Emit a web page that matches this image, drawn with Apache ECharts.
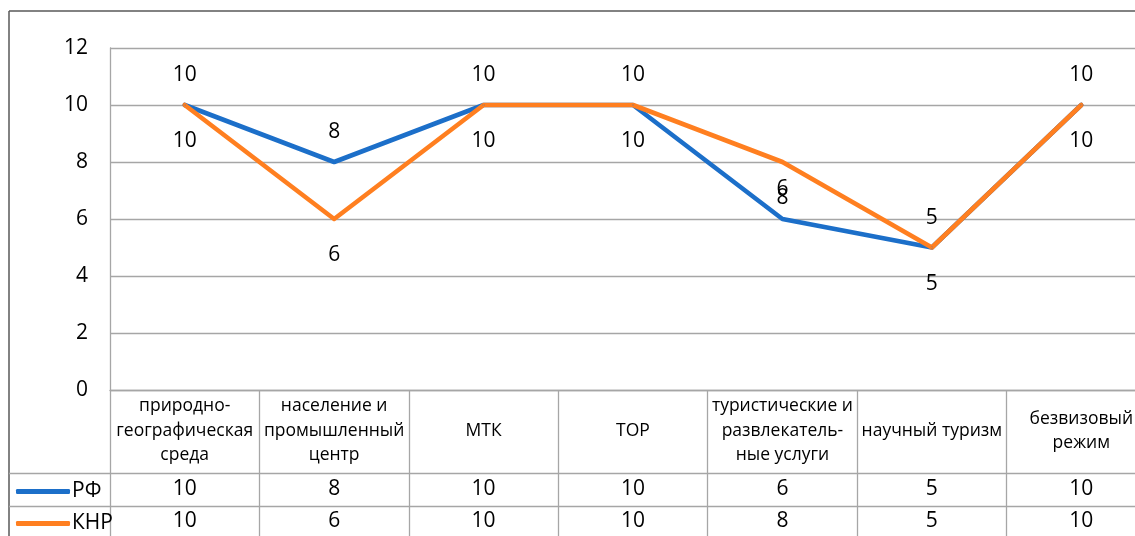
<!DOCTYPE html>
<html><head><meta charset="utf-8">
<script src="https://cdn.jsdelivr.net/npm/echarts@6/dist/echarts.min.js"></script>
<style>html,body{margin:0;padding:0;background:#fff}#c{width:1135px;height:536px}</style>
</head><body><div id="c"></div>
<script>
const categories = ['природно-\nгеографическая\nсреда','население и\nпромышленный\nцентр','МТК','ТОР','туристические и\nразвлекатель-\nные услуги','научный туризм','безвизовый\nрежим'];
const rfValues = [10, 8, 10, 10, 6, 5, 10];
const knrValues = [10, 6, 10, 10, 8, 5, 10];
const yTicks = [0, 2, 4, 6, 8, 10, 12];
const seriesNames = ['РФ', 'КНР'];
const colors = ['#1C6FC9', '#FF7F20'];

const FONT = 'Open Sans';
const numSize = 21;
const grey = '#A6A6A6';
const chart = echarts.init(document.getElementById('c'));
const tableAxis = (vals, margin) => ({
  type: 'category', data: categories, position: 'bottom', gridIndex: 0,
  axisLine: {show: false}, axisTick: {show: false},
  axisLabel: {interval: 0, margin: margin, verticalAlign: 'middle', fontFamily: FONT, fontSize: numSize, color: '#000',
    formatter: (v, i) => String(vals[i])}
});
const legendItem = (i, top) => ({
  orient: 'horizontal', left: 11, top: top, itemWidth: 54, itemHeight: 5, icon: 'roundRect',
  data: [{name: seriesNames[i], itemStyle: {color: colors[i], opacity: 1}}], selectedMode: false,
  textStyle: {fontFamily: FONT, fontSize: numSize, color: '#000', padding: [0, 0, 0, -3]}
});
const lineSeries = (i, vals, pos, dist) => ({
  name: seriesNames[i], type: 'line', data: vals, symbol: 'circle', symbolSize: 2, showSymbol: true,
  itemStyle: {color: colors[i]}, color: colors[i],
  lineStyle: {width: 4.6, color: colors[i], cap: 'round', join: 'round'},
  labelLayout: {hideOverlap: false},
  label: {show: true, position: pos, distance: dist, fontFamily: FONT, fontSize: numSize, color: '#000'}
});
chart.setOption({
  animation: false,
  textStyle: {fontFamily: FONT},
  grid: {left: 110, top: 48, bottom: 146, width: 1046, outerBoundsMode: 'none', containLabel: false},
  legend: [legendItem(0, 476), legendItem(1, 508)],
  xAxis: [
    {type: 'category', data: categories, boundaryGap: true,
      axisLine: {show: true, lineStyle: {color: grey, width: 1.3}},
      axisTick: {show: true, length: 146, interval: 0, lineStyle: {color: grey, width: 1.3}},
      splitLine: {show: false},
      axisLabel: {interval: 0, margin: 41, verticalAlign: 'middle', lineHeight: 24.5, fontFamily: FONT, fontSize: 17.5, color: '#000'}},
    tableAxis(rfValues, 99),
    tableAxis(knrValues, 131)
  ],
  yAxis: {type: 'value', min: 0, max: 12, interval: 2,
    axisLine: {show: true, lineStyle: {color: grey, width: 1.3}},
    axisTick: {show: false},
    splitLine: {lineStyle: {color: grey, width: 1.3}},
    axisLabel: {margin: 22, fontFamily: FONT, fontSize: numSize, color: '#000'}},
  series: [
    lineSeries(0, rfValues, 'top', 18),
    lineSeries(1, knrValues, 'bottom', 25)
  ],
  graphic: [
    {type: 'line', shape: {x1: 9, y1: 11, x2: 1135, y2: 11}, style: {stroke: '#595959', lineWidth: 1.5}},
    {type: 'line', shape: {x1: 9, y1: 11, x2: 9, y2: 536}, style: {stroke: '#595959', lineWidth: 1.5}},
    {type: 'line', shape: {x1: 9, y1: 473.5, x2: 1135, y2: 473.5}, style: {stroke: grey, lineWidth: 1.3}},
    {type: 'line', shape: {x1: 9, y1: 506.5, x2: 1135, y2: 506.5}, style: {stroke: grey, lineWidth: 1.3}}
  ]
});
</script></body></html>
